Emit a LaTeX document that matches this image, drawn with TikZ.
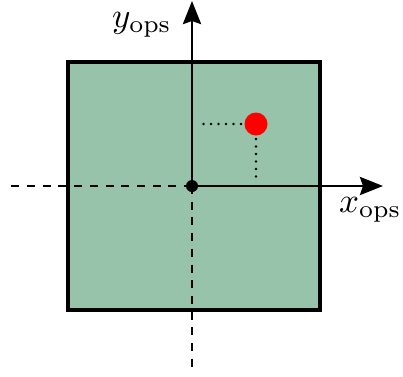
\documentclass[tikz,border=0pt]{standalone}
\usetikzlibrary{arrows.meta}
\definecolor{boxgreen}{RGB}{150,195,170}
\definecolor{dotred}{RGB}{255,0,0}
\tikzset{
  sq/.style={draw=black,fill=boxgreen,line width=3.5pt},
  axis/.style={line width=2.9pt,-{Stealth[length=23pt,width=18pt,inset=3pt]}},
  dashaxis/.style={line width=2.7pt,dash pattern=on 8pt off 7.7pt},
  proj/.style={line width=2.8pt,line cap=round,dash pattern=on 0pt off 7.5pt},
  lbl/.style={inner sep=0pt,anchor=base west},
}
\begin{document}
\begin{tikzpicture}[x=1pt,y=-1pt]
\useasboundingbox (0,0) rectangle (403,376);
\coordinate (bl) at (68,310);
\coordinate (tr) at (320,62);
\draw[sq] (bl) rectangle (tr);
\coordinate (o) at (192,186);
\coordinate (ytip) at (192,1);
\coordinate (xtip) at (383,186);
\coordinate (xneg) at (9,186);
\coordinate (yneg) at (192,368);
\coordinate (p) at (256,124);
\coordinate (ph) at (198,124);
\coordinate (pv) at (256,178);
\draw[dashaxis] (o) -- (xneg);
\draw[dashaxis] (o) -- (yneg);
\draw[axis] (o) -- (ytip);
\draw[axis] (o) -- (xtip);
\draw[proj] (p) -- (ph);
\draw[proj] (p) -- (pv);
\fill[dotred] (p) circle (11.5pt);
\fill (o) circle (6pt);
\node[lbl] (ylab) at (112,27) {\scalebox{3.5}{$y_{\mathrm{ops}}$}};
\node[lbl] (xlab) at (339,212) {\scalebox{3.5}{$x_{\mathrm{ops}}$}};
\end{tikzpicture}
\end{document}
